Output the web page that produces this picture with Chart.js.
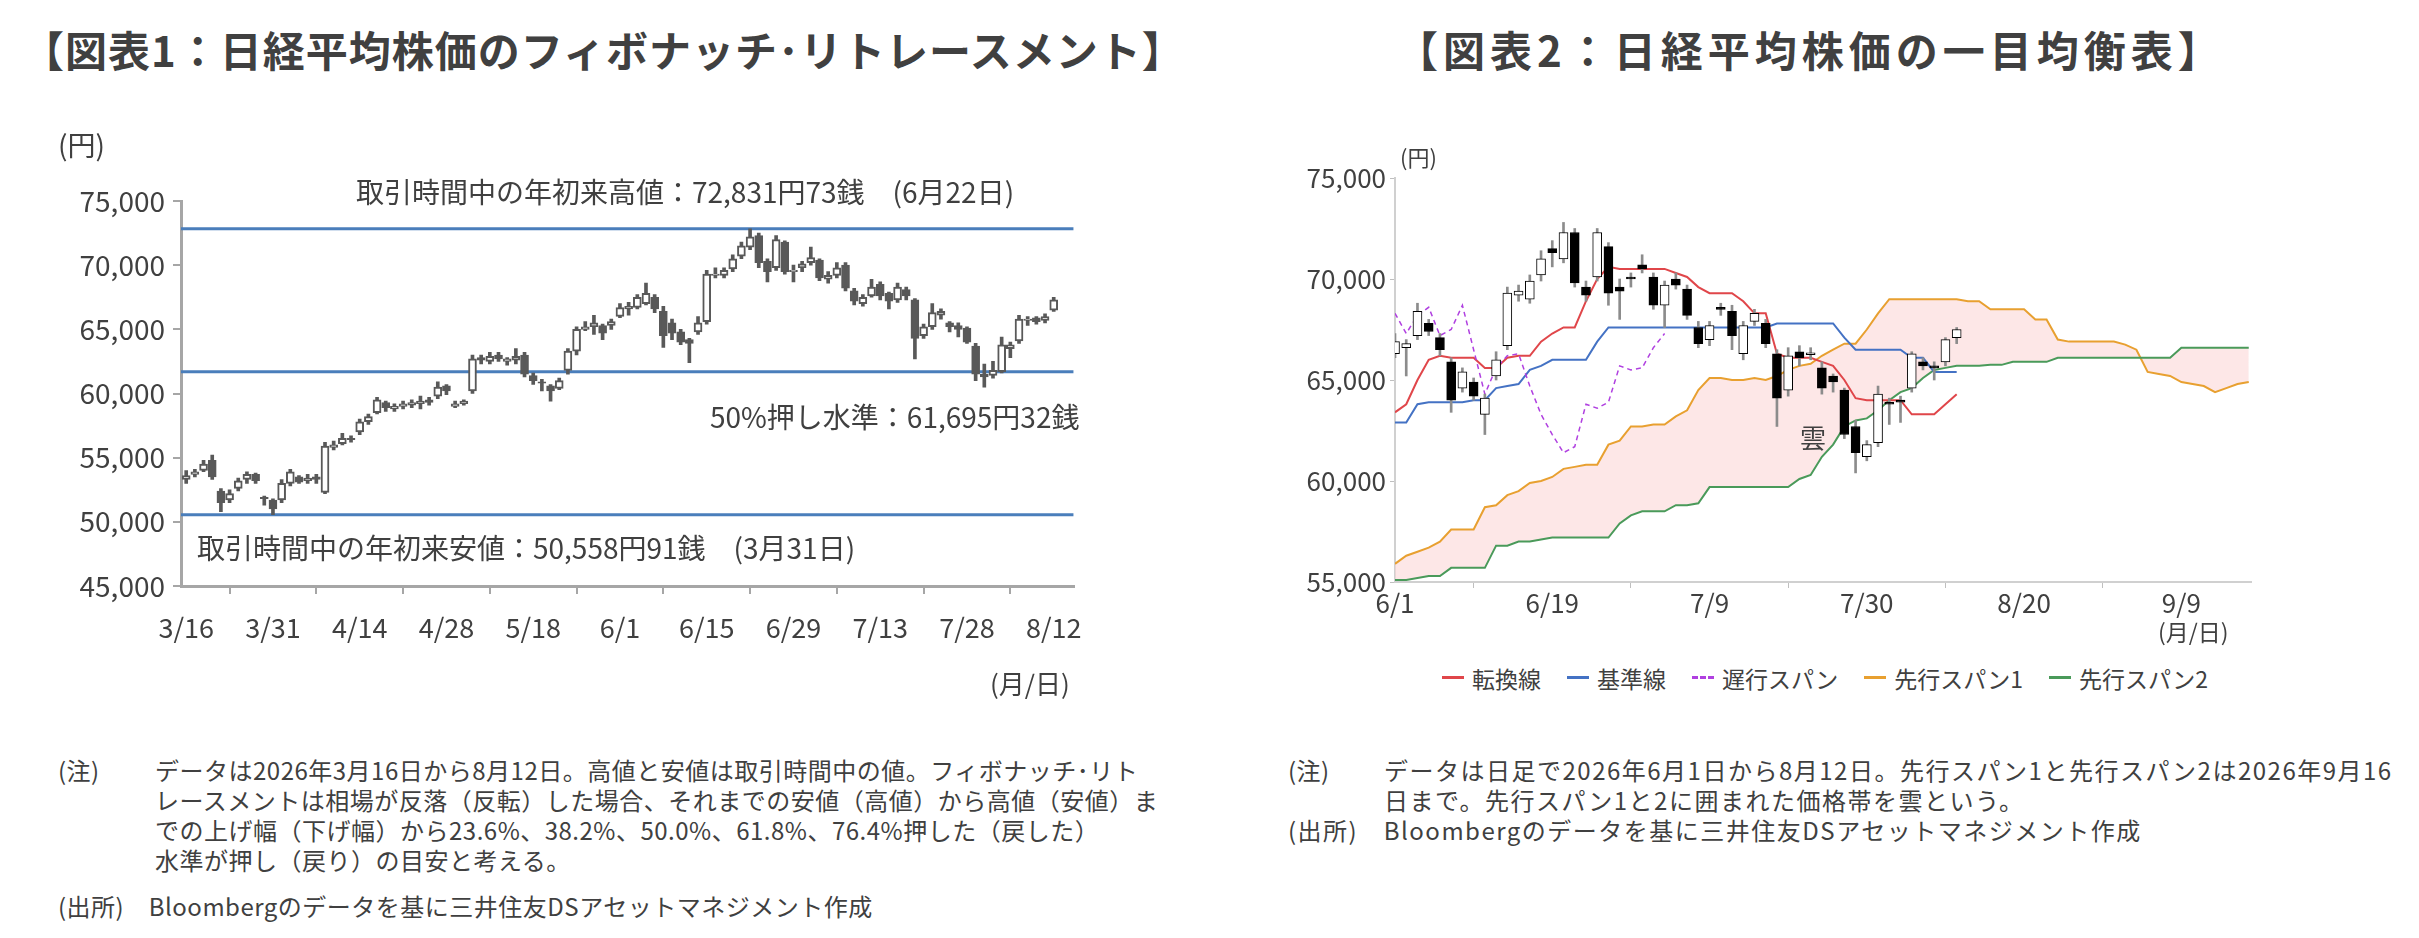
<!DOCTYPE html>
<html><head><meta charset="utf-8">
<script src="https://cdn.jsdelivr.net/npm/chart.js@4/dist/chart.umd.min.js"></script>
<style>
body{margin:0;width:2419px;height:938px;background:#fff;position:relative;font-family:"Noto Sans CJK JP","Noto Sans",sans-serif;color:#404040;overflow:hidden}
.abs{position:absolute;white-space:nowrap}
.title{font-size:42px;font-weight:bold;color:#404040}
.lbl{font-size:28px;color:#404040}
.note{font-size:24px;line-height:30px;color:#404040;letter-spacing:0.5px}
.box{position:absolute}
.leg{display:inline-flex;align-items:center;margin-right:26px}
.leg i{display:inline-block;width:22px;height:0;border-top:3px solid;margin-right:8px}
</style></head><body>
<div class="abs title" style="left:22px;top:18px;letter-spacing:1px">【図表1：日経平均株価のフィボナッチ･リトレースメント】</div>
<div class="abs title" style="left:1396px;top:18px;letter-spacing:5px">【図表2：日経平均株価の一目均衡表】</div>

<div class="box" style="left:0;top:130px;width:1100px;height:540px"><canvas id="c1"></canvas></div>
<div class="box" style="left:1240px;top:130px;width:1100px;height:520px"><canvas id="c2"></canvas></div>

<div class="abs lbl" style="left:58px;top:124px">(円)</div>
<div class="abs lbl" style="left:356px;top:171px">取引時間中の年初来高値：72,831円73銭　(6月22日)</div>
<div class="abs lbl" style="left:710px;top:396px">50%押し水準：61,695円32銭</div>
<div class="abs lbl" style="left:197px;top:527px">取引時間中の年初来安値：50,558円91銭　(3月31日)</div>
<div class="abs lbl" style="left:990px;top:664px;font-size:26px">(月/日)</div>

<div class="abs lbl" style="left:1400px;top:140px;font-size:22px">(円)</div>
<div class="abs lbl" style="left:1800px;top:418px;font-size:26px">雲</div>
<div class="abs lbl" style="left:2158px;top:614px;font-size:23px">(月/日)</div>
<div class="abs lbl" style="left:1442px;top:652px;font-size:23px">
<span class="leg"><i style="border-color:#e0464a"></i>転換線</span><span class="leg"><i style="border-color:#4472c4"></i>基準線</span><span class="leg"><i style="border-color:#b040e0;border-top-style:dashed"></i>遅行スパン</span><span class="leg"><i style="border-color:#e8a030"></i>先行スパン1</span><span class="leg"><i style="border-color:#4a9a5a"></i>先行スパン2</span>
</div>

<div class="abs note" style="left:58px;top:755px">(注)</div>
<div class="abs note" style="left:155px;top:755px">データは2026年3月16日から8月12日。高値と安値は取引時間中の値。フィボナッチ･リト<br>レースメントは相場が反落（反転）した場合、それまでの安値（高値）から高値（安値）ま<br>での上げ幅（下げ幅）から23.6%、38.2%、50.0%、61.8%、76.4%押した（戻した）<br>水準が押し（戻り）の目安と考える。</div>
<div class="abs note" style="left:58px;top:891px">(出所)　Bloombergのデータを基に三井住友DSアセットマネジメント作成</div>

<div class="abs note" style="left:1288px;top:755px">(注)</div>
<div class="abs note" style="left:1384px;top:755px;letter-spacing:1.5px">データは日足で2026年6月1日から8月12日。先行スパン1と先行スパン2は2026年9月16<br>日まで。先行スパン1と2に囲まれた価格帯を雲という。</div>
<div class="abs note" style="left:1288px;top:815px;letter-spacing:1.5px">(出所)　Bloombergのデータを基に三井住友DSアセットマネジメント作成</div>

<script>
// ---- 図表1 data (daily, 3/16 - 8/12)
const dates1 = ['3/16','3/31','4/14','4/28','5/18','6/1','6/15','6/29','7/13','7/28','8/12'];
const open1 = [53300,53700,54000,54800,52400,51700,52600,53300,53700,51900,51700,51700,53000,53500,53200,53500,52300,55800,56100,56500,57000,57800,58500,59300,58800,59000,59100,59200,59500,59800,60600,59000,59200,60200,62800,62500,63000,62500,62600,63000,61400,60900,60600,60400,61800,63300,65000,65200,65300,65300,66000,66600,66700,67000,67500,66400,65500,64800,64200,64800,65600,69200,69200,69700,70700,71400,72300,70300,69800,71800,69500,69800,70200,70400,68900,69200,70000,68000,67000,67600,68500,67800,67300,68100,67300,64500,65200,66100,65500,65300,65100,63700,61500,61400,61700,63500,64100,65700,65900,65700,66500];
const high1 = [54000,54100,54800,55200,52600,52500,53400,53900,53800,52000,51800,53300,54100,53600,53700,53700,56200,56300,56900,56700,58000,58400,59700,59400,59200,59400,59500,59800,59700,60900,60700,59400,59500,63000,63000,63200,63200,62800,63500,63200,61600,61100,60700,61200,63500,65200,65600,66100,65400,65800,67000,67100,67700,68600,67700,66800,65800,65000,64300,66000,69600,69800,69800,70800,71800,72830,72500,70500,72300,71900,70000,70300,71400,70500,69500,70200,70200,68200,67700,68900,68700,67900,68600,68300,67400,65400,67000,66600,65600,65500,65200,63900,62300,62500,64400,64000,66100,66000,66000,66200,67500];
const low1 = [53000,53500,53900,53300,50800,51500,52400,53000,53000,51300,50559,51500,52800,53000,53000,53000,52200,55600,56000,56200,56800,57600,58400,58600,58600,58800,58900,58800,59100,59600,59900,58900,59100,60000,62300,62300,62500,62200,62300,61300,60700,60200,59400,60300,61500,63000,64900,64600,64200,65000,65900,66100,66600,66900,66300,63600,64200,63800,62400,64600,65400,69000,69000,69500,70500,71200,69800,68700,69600,69300,68700,69500,70000,68800,68600,69000,68000,66900,66800,67500,67300,66600,67100,67300,62700,64300,65000,65800,64800,64400,63900,61000,60500,61200,61600,62800,63900,65300,65400,65500,66400];
const close1 = [53600,53900,54500,53500,51500,52200,53200,53700,53200,51800,51000,53000,53900,53100,53400,53300,55900,56000,56500,56400,57800,58200,59500,58900,59000,59200,59300,59400,59300,60500,60200,59200,59400,62700,62600,62900,62700,62700,62900,61500,61000,60800,60200,61000,63300,65000,65200,65500,64700,65600,66700,66800,67500,67800,66600,64500,64700,64000,63900,65500,69300,69300,69600,70500,71500,72200,70200,69500,72000,69500,69600,70100,70600,69000,69200,69800,68200,67200,67500,68300,67600,67200,68300,67600,64300,65200,66300,66400,65200,65000,64000,61500,61300,61800,63800,63800,65800,65800,65600,66000,67300];
const fibLevels = [72831.73, 61695.32, 50558.91];

// ---- 図表2 data (daily, 6/1 - 8/12 candles; spans to 9/16)
const dates2 = ['6/1','6/19','7/9','7/30','8/20','9/9'];
const open2 = [66300,66600,67200,67800,67100,65900,64600,64900,63300,65200,66700,69200,69000,70200,71500,71000,72300,69600,70100,71600,69600,70100,70700,70100,68700,70000,69500,67600,67000,68600,68400,66300,67900,67800,66300,64500,66400,66300,65600,65200,64500,62700,61200,61900,63900,64000,64600,65900,65700,65900,67100];
const high2 = [67300,67000,68800,68000,67300,66100,65600,65100,64300,66400,69600,69700,70200,71400,71900,72800,72500,69900,72500,71800,70000,70300,71200,70300,69900,70300,69700,67900,67900,68800,68700,67900,68500,68000,66500,66600,66700,66600,65900,65300,64600,63000,62000,64700,64100,64200,66400,66100,65900,67100,67600];
const low2 = [66100,65200,67000,67200,66200,63400,64400,64000,62300,65000,66500,68900,68800,69900,70600,70800,69600,68900,69900,68700,68000,69600,70300,68500,67600,69500,68000,66600,66700,68200,66500,66000,67700,66600,62700,64200,65700,66000,64300,64400,62100,60400,61000,61700,62800,62900,64400,65500,65000,65700,66800];
const close2 = [66900,66800,68400,67400,66500,64000,65400,64200,64100,66000,69300,69400,69900,71000,71300,72300,69800,69200,72300,69300,69400,70000,70500,68700,69700,69700,68200,66800,67700,68500,67200,67700,68300,66800,64100,66200,66100,66300,64600,64900,62300,61400,61800,64300,63800,63900,66300,65700,65600,67000,67500];
const tenkan = [63400,63800,65000,66000,66200,66100,66100,66100,65600,65600,66100,66200,66200,66900,67300,67600,67600,68900,70000,70600,70500,70500,70500,70500,70500,70300,70100,69600,69300,69300,69300,68900,68300,68300,66300,66100,66100,66100,65900,65700,65000,64100,64000,64000,64000,64000,63300,63300,63300,63800,64300];
const kijun = [62900,62900,63800,63900,63900,63900,63900,64000,64000,64600,64700,64800,65500,65700,66000,66000,66000,66000,66900,67600,67600,67600,67600,67600,67600,67600,67600,67600,67600,67600,67600,67600,67600,67600,67800,67800,67800,67800,67800,67800,67100,66500,66500,66500,66500,66500,66100,66100,65400,65400,65400];
const chikou = [68300,67300,68200,68600,67200,67500,68700,66500,64300,65600,66200,66300,64700,63300,62300,61400,61700,63800,63600,63900,65700,65500,65600,66600,67300];
const senkou1 = [55900,56300,56500,56700,57000,57600,57600,57600,58700,58800,59300,59500,59900,60000,60200,60600,60700,60800,60800,61800,62000,62700,62700,62800,62800,63200,63500,64500,65100,65100,65000,65000,65100,65000,65200,65500,65700,65800,66200,66500,66800,66800,67500,68300,69000,69000,69000,69000,69000,69000,69000,68900,68900,68500,68500,68500,68500,68000,68000,67000,66900,66900,66900,66900,66900,66750,66500,65400,65300,65200,64900,64800,64700,64400,64600,64800,64900];
const senkou2 = [55100,55100,55200,55300,55300,55700,55700,55700,55700,56800,56800,57000,57000,57100,57200,57200,57200,57200,57200,57200,57900,58300,58500,58500,58500,58800,58800,58900,59700,59700,59700,59700,59700,59700,59700,59700,60100,60300,61200,61800,62700,63000,63100,63500,64000,64400,64600,65100,65500,65600,65700,65700,65700,65750,65750,65900,65900,65900,65900,66100,66100,66100,66100,66100,66100,66100,66100,66100,66100,66100,66600,66600,66600,66600,66600,66600,66600];

const txt = '#404040', axisGray = '#a6a6a6';
Chart.defaults.font.family = '"Noto Sans CJK JP","Noto Sans",sans-serif';
Chart.defaults.color = txt;
Chart.defaults.animation = false;

function pts(arr){ return arr.map((v,i)=>({x:i, y:v})); }
function ranges(a,b){ return a.map((v,i)=>({x:i, y:[v,b[i]]})); }
function bodyRanges(o,c){ return o.map((v,i)=>({x:i, y: Math.abs(c[i]-v)<60 ? [v-50,v+50] : [v,c[i]]})); }

// 図表1
new Chart(document.getElementById('c1'), {
  type:'bar',
  data:{ datasets:[
    {type:'bar', data:bodyRanges(open1,close1), grouped:false, barThickness:8, order:0,
     backgroundColor: open1.map((o,i)=> close1[i]>=o ? '#ffffff' : '#595959'),
     borderColor:'#595959', borderWidth:2, borderSkipped:false},
    {type:'bar', data:ranges(low1,high1), grouped:false, barThickness:3, order:1, backgroundColor:'#595959'},
    ...fibLevels.map(v=>({type:'line', data:[{x:-0.6,y:v},{x:102.3,y:v}], borderColor:'#4a7ebb', borderWidth:3, pointRadius:0, order:2}))
  ]},
  options:{
    responsive:true, maintainAspectRatio:false,
    layout:{padding:{top:71,right:23,left:0,bottom:0}},
    plugins:{legend:{display:false}, tooltip:{enabled:false}},
    scales:{
      x:{type:'linear', min:-0.6, max:102.3, offset:false,
        afterFit(s){ s.height = 84; },
        afterBuildTicks(s){ s.ticks = dates1.map((_,k)=>({value:k*10})); },
        ticks:{callback:(v)=> dates1[v/10], font:{size:27}, padding:18, maxRotation:0, autoSkip:false},
        grid:{drawOnChartArea:false, color:axisGray, tickLength:8, lineWidth:2},
        border:{color:axisGray, width:3}},
      y:{min:45000, max:75000,
        afterFit(s){ s.width = 181; },
        ticks:{stepSize:5000, font:{size:28}, padding:8, callback:v=>v.toLocaleString('en-US')},
        grid:{drawOnChartArea:false, color:axisGray, tickLength:8, lineWidth:2},
        border:{color:axisGray, width:3}}
    }
  }
});

// 図表2
new Chart(document.getElementById('c2'), {
  type:'bar',
  data:{ datasets:[
    {type:'line', data:pts(senkou1), borderColor:'#e8a030', borderWidth:2, pointRadius:0, fill:'+1', backgroundColor:'rgba(252,215,215,0.6)', order:9},
    {type:'line', data:pts(senkou2), borderColor:'#4a9a5a', borderWidth:2, pointRadius:0, fill:false, order:8},
    {type:'line', data:pts(kijun), borderColor:'#4472c4', borderWidth:2, pointRadius:0, order:6},
    {type:'line', data:pts(tenkan), borderColor:'#e0464a', borderWidth:2, pointRadius:0, order:5},
    {type:'line', data:pts(chikou), borderColor:'#b040e0', borderWidth:1.5, borderDash:[5,4], pointRadius:0, order:4},
    {type:'bar', data:ranges(low2,high2), grouped:false, barThickness:2, order:1, backgroundColor:'#8c8c8c'},
    {type:'bar', data:bodyRanges(open2,close2), grouped:false, barThickness:9, order:0,
     backgroundColor: open2.map((o,i)=> close2[i]>=o ? '#ffffff' : '#000000'),
     borderColor:'#000000', borderWidth:1, borderSkipped:false}
  ]},
  options:{
    responsive:true, maintainAspectRatio:false,
    layout:{padding:{top:48,right:89,left:0,bottom:0}},
    plugins:{legend:{display:false}, tooltip:{enabled:false}},
    scales:{
      x:{type:'linear', min:0, max:76.2, offset:false,
        afterFit(s){ s.height = 68; },
        afterBuildTicks(s){ s.ticks = dates2.map((_,k)=>({value:k*14})); },
        ticks:{callback:(v)=> dates2[v/14], font:{size:26}, padding:0, maxRotation:0, autoSkip:false},
        grid:{drawOnChartArea:false, color:'#bfbfbf', tickLength:6},
        border:{color:'#d0d0d0', width:2}},
      y:{min:55000, max:75000,
        afterFit(s){ s.width = 155; },
        ticks:{stepSize:5000, font:{size:26}, padding:4, callback:v=>v.toLocaleString('en-US')},
        grid:{drawOnChartArea:false, color:'#bfbfbf', tickLength:5},
        border:{color:'#d0d0d0', width:2}}
    }
  }
});
</script>
</body></html>
